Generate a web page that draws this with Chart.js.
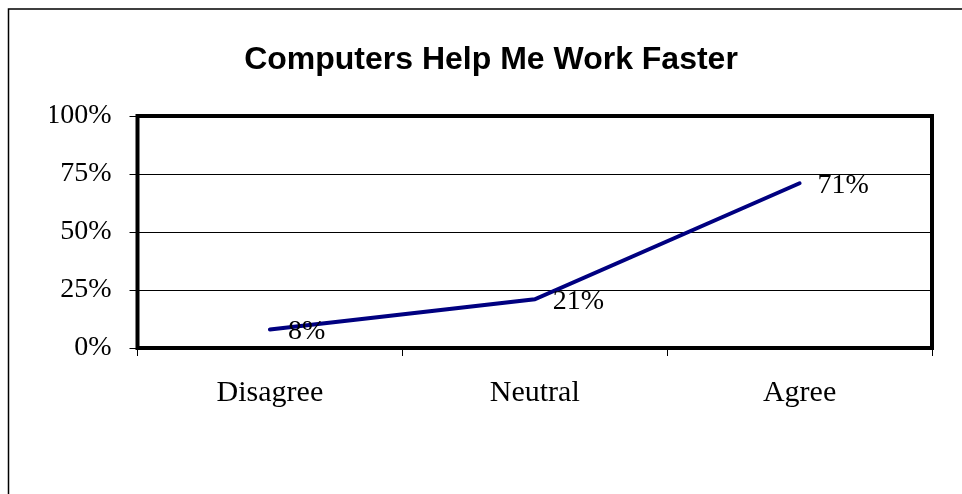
<!DOCTYPE html>
<html>
<head>
<meta charset="utf-8">
<style>
  html, body { margin: 0; padding: 0; background: #fff; }
  #wrap { width: 962px; height: 494px; position: relative; }
</style>
<script src="https://cdn.jsdelivr.net/npm/chart.js@4/dist/chart.umd.min.js"></script>
</head>
<body>
<div id="wrap"><canvas id="c" width="962" height="494"></canvas></div>
<script>
const titleText = 'Computers Help Me Work Faster';
const categories = ['Disagree', 'Neutral', 'Agree'];
const agreementPct = [8, 21, 71];
const dataLabels = ['8%', '21%', '71%'];
const yTickStep = 25;

const serif = '"Times New Roman", "Liberation Serif", serif';
const sans = 'Arial, "Liberation Sans", sans-serif';

const framePlugin = {
  id: 'frame',
  beforeDraw(chart) {
    const ctx = chart.ctx;
    ctx.save();
    ctx.fillStyle = '#fff';
    ctx.fillRect(0, 0, chart.width, chart.height);
    ctx.strokeStyle = '#000';
    ctx.lineWidth = 1.5;
    ctx.beginPath();
    ctx.moveTo(8.5, chart.height);
    ctx.lineTo(8.5, 9);
    ctx.lineTo(chart.width, 9);
    ctx.stroke();
    ctx.restore();
  },
  beforeDatasetsDraw(chart) {
    const a = chart.chartArea;
    const ctx = chart.ctx;
    ctx.save();
    ctx.strokeStyle = '#000';
    ctx.lineWidth = 4;
    ctx.strokeRect(a.left, a.top, a.right - a.left, a.bottom - a.top);
    ctx.restore();
  },
  afterDatasetsDraw(chart) {
    const ctx = chart.ctx;
    const meta = chart.getDatasetMeta(0);
    ctx.save();
    ctx.fillStyle = '#000';
    ctx.font = '28px ' + serif;
    ctx.textAlign = 'left';
    ctx.textBaseline = 'middle';
    meta.data.forEach((pt, i) => {
      ctx.fillText(dataLabels[i], pt.x + 18, pt.y + 2);
    });
    ctx.restore();
  }
};

new Chart(document.getElementById('c'), {
  type: 'line',
  data: {
    labels: categories,
    datasets: [{
      data: agreementPct,
      borderColor: '#000080',
      borderWidth: 4,
      borderCapStyle: 'round',
      pointRadius: 0,
      tension: 0,
      fill: false
    }]
  },
  options: {
    responsive: false,
    animation: false,
    devicePixelRatio: 1,
    layout: { padding: { left: 50, right: 30, top: 0, bottom: 0 } },
    plugins: {
      legend: { display: false },
      tooltip: { enabled: false },
      title: {
        display: true,
        text: titleText,
        color: '#000',
        font: { family: sans, size: 32, weight: 'bold', lineHeight: 1.2 },
        padding: { top: 41, bottom: 36.6 }
      }
    },
    scales: {
      x: {
        offset: true,
        grid: { display: true, drawOnChartArea: false, drawTicks: true, tickLength: 8, offset: true, color: '#000', lineWidth: 1 },
        border: { display: false },
        ticks: { color: '#000', font: { family: serif, size: 30 }, padding: 19, maxRotation: 0 },
        afterFit(scale) { scale.height = 146; }
      },
      y: {
        min: 0,
        max: 100,
        grid: { color: '#000', lineWidth: 1, tickLength: 8, drawTicks: true },
        border: { display: false },
        ticks: {
          stepSize: yTickStep,
          color: '#000',
          font: { family: serif, size: 28 },
          padding: 18,
          callback: v => v + '%'
        },
        afterFit(scale) { scale.width = 87.5; }
      }
    }
  },
  plugins: [framePlugin]
});
</script>
</body>
</html>
